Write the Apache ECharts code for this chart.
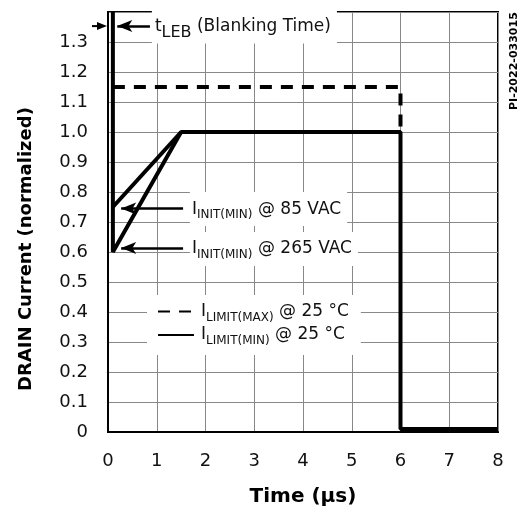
<!DOCTYPE html>
<html>
<head>
<meta charset="utf-8">
<script src="https://cdn.jsdelivr.net/npm/echarts@6/dist/echarts.min.js"></script>
<style>
  html, body { margin: 0; padding: 0; background: #fff; }
  #main { width: 520px; height: 512px; }
</style>
</head>
<body>
<div id="main"></div>
<script>
// 数据
var xTicks = [0, 1, 2, 3, 4, 5, 6, 7, 8];
var yTicks = [0, 0.1, 0.2, 0.3, 0.4, 0.5, 0.6, 0.7, 0.8, 0.9, 1.0, 1.1, 1.2, 1.3];
var limitMax = [[0.1, 1.15], [6, 1.15], [6, 0.99]];
var limitMin = [[0.1, 1.4], [0.1, 0.6], [1.5, 1.0], [6, 1.0], [6, 0.01], [8, 0.01]];
var init85 = [[0.1, 0.75], [1.5, 1.0]];
// annotation anchors (data coords)
var lebArrow = [[0.86, 1.353], [0.19, 1.353]];
var vac85Arrow = [[1.54, 0.745], [0.27, 0.745]];
var vac265Arrow = [[1.54, 0.613], [0.27, 0.613]];

var FONT = 'DejaVu Sans';
var subRich = {
  n: { fontFamily: FONT, fontSize: 17, color: '#111', lineHeight: 24, verticalAlign: 'middle' },
  s: { fontFamily: FONT, fontSize: 12, color: '#111', lineHeight: 24, verticalAlign: 'bottom' },
  s2: { fontFamily: FONT, fontSize: 16, color: '#111', lineHeight: 27, verticalAlign: 'bottom' }
};

function boxLabel(fmt, pad) {
  return {
    show: true, position: 'right', distance: 0,
    formatter: fmt, backgroundColor: '#fff', padding: pad,
    rich: subRich
  };
}

var arrowLine = { color: '#000', width: 2.5, type: 'solid' };

var myChart = echarts.init(document.getElementById('main'));
myChart.setOption({
  animation: false,
  backgroundColor: '#fff',
  grid: { left: 108, right: 22, top: 12, bottom: 79, show: true, borderColor: '#000', borderWidth: 2, backgroundColor: 'transparent' },
  xAxis: {
    type: 'value', min: 0, max: 8, interval: 1,
    name: 'Time (μs)', nameLocation: 'middle', nameGap: 55,
    nameTextStyle: { fontFamily: FONT, fontSize: 20, fontWeight: 'bold', color: '#000' },
    axisLine: { show: true, lineStyle: { color: '#000', width: 2 } },
    axisTick: { show: false },
    axisLabel: { margin: 20, fontFamily: FONT, fontSize: 18, color: '#111' },
    splitLine: { show: true, lineStyle: { color: '#888', width: 1 } }
  },
  yAxis: {
    type: 'value', min: 0, max: 1.4, interval: 0.1,
    axisLine: { show: true, lineStyle: { color: '#000', width: 2 } },
    axisTick: { show: false },
    axisLabel: {
      margin: 20, fontFamily: FONT, fontSize: 18, color: '#111',
      formatter: function (v) {
        var t = yTicks.find(function (k) { return Math.abs(k - v) < 1e-6; });
        if (t === undefined) return '';
        return t === 0 ? '0' : t.toFixed(1);
      }
    },
    splitLine: { show: true, lineStyle: { color: '#888', width: 1 } }
  },
  legend: {
    data: ['max', 'min'],
    orient: 'vertical', left: 147, top: 295,
    backgroundColor: '#fff', padding: [8, 12, 8, 10],
    itemWidth: 36, itemHeight: 14, itemGap: 3,
    itemStyle: { opacity: 0 },
    formatter: function (name) {
      return name === 'max'
        ? '{n|I}{s|LIMIT(MAX)}{n| @ 25 °C}'
        : '{n|I}{s|LIMIT(MIN)}{n| @ 25 °C}';
    },
    textStyle: { rich: subRich, padding: [0, 0, 0, 2] }
  },
  series: [
    {
      name: 'max', type: 'line', data: limitMax, symbol: 'none', z: 3,
      itemStyle: { color: '#000' },
      lineStyle: { color: '#000', width: 4, type: [12, 9] }
    },
    {
      name: 'min', type: 'line', data: limitMin, symbol: 'none', z: 4,
      itemStyle: { color: '#000' },
      lineStyle: { color: '#000', width: 4, type: 'solid' }
    },
    {
      name: 'ramp85', type: 'line', data: init85, symbol: 'none', z: 4,
      itemStyle: { color: '#000' },
      lineStyle: { color: '#000', width: 4, type: 'solid' },
      markLine: {
        silent: true, symbol: ['none', 'arrow'], symbolSize: [9, 15],
        lineStyle: arrowLine, label: { show: false },
        data: [
          [{ coord: lebArrow[0] }, { coord: lebArrow[1] }],
          [{ coord: vac85Arrow[0] }, { coord: vac85Arrow[1] }],
          [{ coord: vac265Arrow[0] }, { coord: vac265Arrow[1] }]
        ]
      },
      markPoint: {
        silent: true, symbol: 'circle', symbolSize: 0,
        data: [
          { coord: [0.9, 1.35], label: boxLabel('{n|t}{s2|LEB}{n| (Blanking Time)}', [3, 6, 3, 3]) },
          { coord: [1.68, 0.743], label: boxLabel('{n|I}{s|INIT(MIN)}{n| @ 85 VAC}', [5, 6, 5, 2]) },
          { coord: [1.68, 0.61], label: boxLabel('{n|I}{s|INIT(MIN)}{n| @ 265 VAC}', [5, 6, 5, 2]) }
        ]
      }
    }
  ]
});

// small arrow outside the plot pointing at the axis, y-axis title, figure id
var p0 = myChart.convertToPixel({ gridIndex: 0 }, [0, 1.353]);
myChart.setOption({
  graphic: [
    { type: 'line', shape: { x1: p0[0] - 16, y1: p0[1], x2: p0[0] - 8, y2: p0[1] }, style: { stroke: '#000', lineWidth: 2 } },
    { type: 'polygon', shape: { points: [[p0[0] - 1, p0[1]], [p0[0] - 11, p0[1] - 4], [p0[0] - 11, p0[1] + 4]] }, style: { fill: '#000' } },
    {
      type: 'text', x: 26, y: 249, rotation: Math.PI / 2,
      style: { text: 'DRAIN Current (normalized)', font: 'bold 18px "DejaVu Sans"', fill: '#000', textAlign: 'center', textVerticalAlign: 'middle' }
    },
    {
      type: 'text', x: 514, y: 110, rotation: Math.PI / 2,
      style: { text: 'PI-2022-033015', font: 'bold 11px "DejaVu Sans"', fill: '#000', textAlign: 'left', textVerticalAlign: 'middle' }
    }
  ]
});
</script>
</body>
</html>
